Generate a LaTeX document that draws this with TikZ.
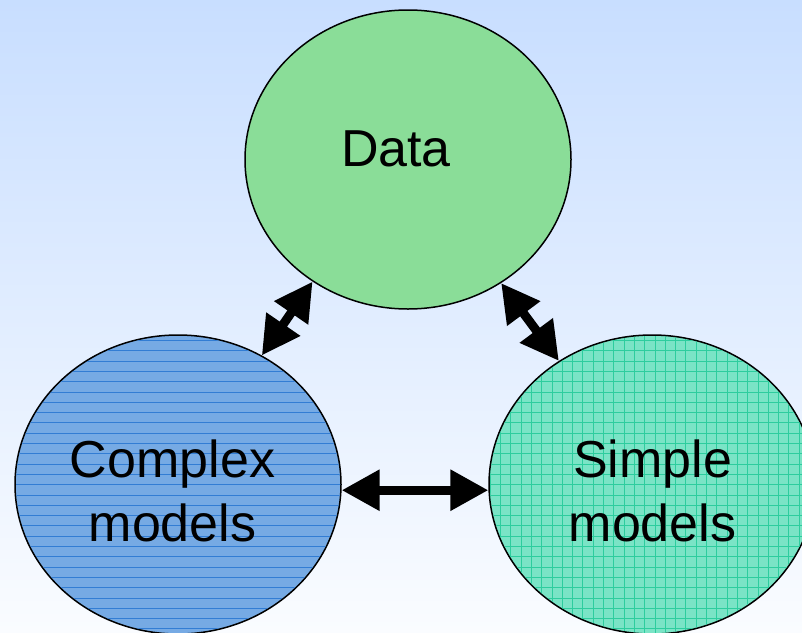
\documentclass[tikz,border=0pt]{standalone}
\usepackage{fontspec}
\setmainfont{Liberation Sans}
\usetikzlibrary{shapes.geometric,arrows.meta}
\definecolor{bgtop}{RGB}{200,222,255}
\definecolor{bgbot}{RGB}{250,252,255}
\definecolor{datafill}{RGB}{138,221,152}
\definecolor{cplxfill}{RGB}{118,170,228}
\definecolor{cplxline}{RGB}{50,125,212}
\definecolor{simpfill}{RGB}{122,228,198}
\definecolor{simpline}{RGB}{45,205,158}
\begin{document}
\begin{tikzpicture}[x=1pt,y=-1pt,
  blob/.style={ellipse, draw=black, line width=1.5pt, minimum width=326pt, minimum height=299pt, inner sep=0pt},
  lbl/.style={font=\fontsize{52}{64}\selectfont, align=center, inner sep=0pt},
  dbl/.style={{Triangle[length=38pt,width=39pt]}-{Triangle[length=38pt,width=39pt]}, line width=9pt, draw=black}]
\useasboundingbox (0,0) rectangle (802,632);
\shade[top color=bgtop, bottom color=bgbot] (0,0) rectangle (802,632);
\node[blob, fill=datafill] (data) at (408,159.5) {};
\node[blob, fill=cplxfill] (cplx) at (178,484.5) {};
\node[blob, fill=simpfill] (simp) at (652,484.5) {};
\begin{scope}
  \clip (cplx.center) ellipse (162pt and 148.5pt);
  \foreach \yy in {330,340.3,...,645} \draw[cplxline, line width=0.6pt] (10,\yy) -- (350,\yy);
\end{scope}
\begin{scope}
  \clip (simp.center) ellipse (162pt and 148.5pt);
  \foreach \xx in {490,500.3,...,820} \draw[simpline, line width=0.55pt] (\xx,330) -- (\xx,645);
  \foreach \yy in {330,340.3,...,645} \draw[simpline, line width=0.55pt] (480,\yy) -- (820,\yy);
\end{scope}
\node[lbl] (datat) at (396,148.4) {Data};
\node[lbl] (cplxt) at (172.5,490.5) {Complex\\models};
\node[lbl] (simpt) at (652.5,490.5) {Simple\\models};
\draw[dbl] (data.232.6) -- (cplx.57.4);
\draw[dbl] (data.307.6) -- (simp.127.2);
\draw[dbl] (cplx.-2) -- (simp.182);
\end{tikzpicture}
\end{document}
